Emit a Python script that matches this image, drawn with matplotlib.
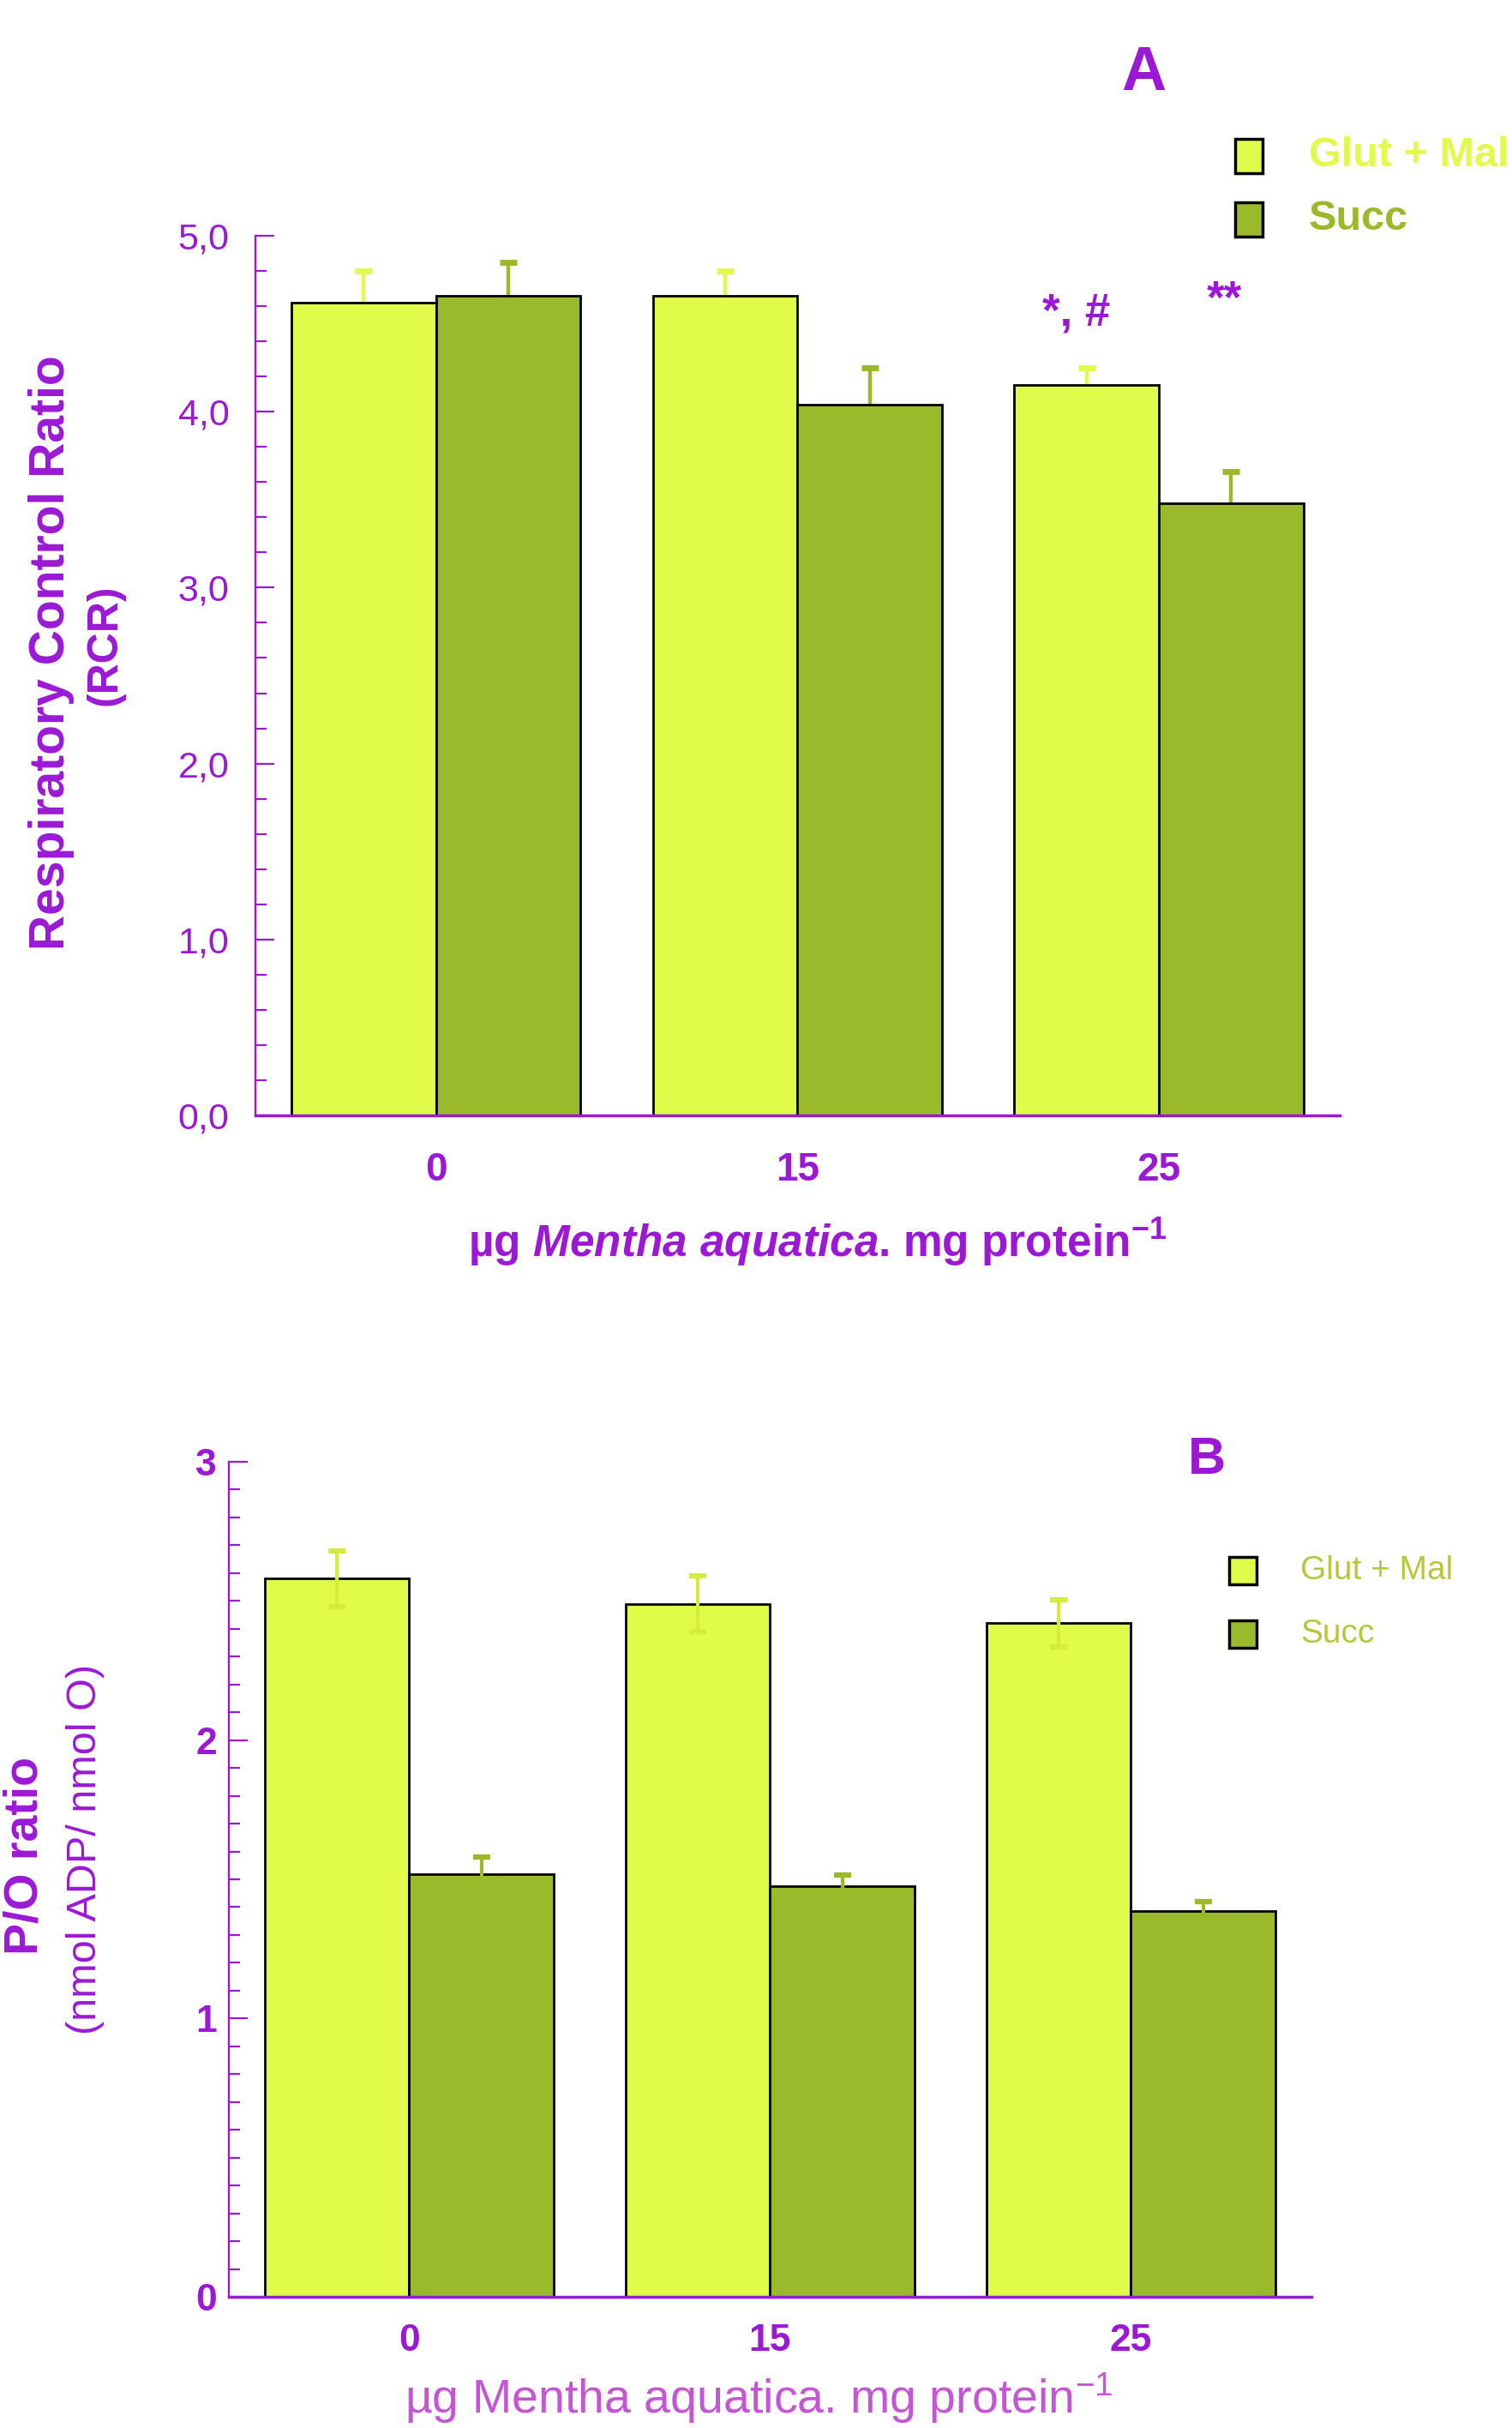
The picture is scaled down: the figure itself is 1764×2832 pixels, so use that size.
import numpy as np
import matplotlib
matplotlib.use("Agg")
import matplotlib.pyplot as plt
from matplotlib.patches import Rectangle

# data
doses = ["0", "15", "25"]
series = ["Glut + Mal", "Succ"]

rcr_glut = [4.62, 4.66, 4.15]
rcr_glut_err = [0.18, 0.14, 0.10]
rcr_succ = [4.66, 4.04, 3.48]
rcr_succ_err = [0.19, 0.21, 0.18]
rcr_marks = ["*, #", "**"]

po_glut = [2.58, 2.49, 2.42]
po_glut_err = [0.10, 0.10, 0.085]
po_succ = [1.52, 1.475, 1.385]
po_succ_err = [0.06, 0.04, 0.035]

purple = "#9B19D5"
light_purple = "#C455D4"
c_glut = "#E0FB4A"
c_succ = "#9ABA2C"
c_glut_err = "#D4EC3C"

fam = ["Liberation Sans", "DejaVu Sans"]

plt.rcParams["font.family"] = fam
plt.rcParams["mathtext.fontset"] = "custom"
plt.rcParams["mathtext.rm"] = "Liberation Sans:bold"
plt.rcParams["mathtext.it"] = "Liberation Sans:italic:bold"

W, H = 1765, 2832
fig = plt.figure(figsize=(W / 100, H / 100), dpi=100)


def fx(px):
    return px / W


def fy(px):
    return 1 - px / H


def style_axes(ax, ymax, major, minor):
    for s in ["top", "right"]:
        ax.spines[s].set_visible(False)
    ax.spines["left"].set_color(purple)
    ax.spines["left"].set_linewidth(1.7)
    ax.spines["bottom"].set_color(purple)
    ax.spines["bottom"].set_linewidth(2.5)
    ax.set_xlim(-0.5, 2.5)
    ax.set_ylim(0, ymax)
    ax.set_yticks(np.arange(0, ymax + 1e-9, major))
    ax.set_yticks(np.arange(0, ymax + 1e-9, minor), minor=True)
    ax.tick_params(axis="y", which="major", direction="in", length=16, width=1.6, color=purple)
    ax.tick_params(axis="y", which="minor", direction="in", length=9, width=1.6, color=purple)
    ax.tick_params(axis="x", length=0)
    ax.set_xticks(range(len(doses)))


x = np.arange(len(doses))
w = 0.4

# ---------------- Panel A ----------------
axA = fig.add_axes([fx(298), fy(1301), fx(1563) - fx(298), fy(275) - fy(1301)])
axA.errorbar(x - w / 2, rcr_glut, yerr=rcr_glut_err, fmt="none", ecolor=c_glut,
             elinewidth=3.2, capsize=7, capthick=5, zorder=1)
axA.errorbar(x + w / 2, rcr_succ, yerr=rcr_succ_err, fmt="none", ecolor=c_succ,
             elinewidth=3.2, capsize=7, capthick=5, zorder=1)
axA.bar(x - w / 2, rcr_glut, w, color=c_glut, edgecolor="black", linewidth=2, zorder=2)
axA.bar(x + w / 2, rcr_succ, w, color=c_succ, edgecolor="black", linewidth=2, zorder=2)
style_axes(axA, 5, 1, 0.2)
axA.set_yticklabels([f"{v:.1f}".replace(".", ",") for v in np.arange(0, 5.01, 1)])
axA.set_xticklabels(doses)
axA.tick_params(axis="y", labelsize=31, labelcolor=purple, pad=22)
axA.tick_params(axis="x", labelsize=33, labelcolor=purple, pad=30)
for t in axA.get_xticklabels():
    t.set_fontweight("bold")

# significance marks over the 25 group
axA.text(x[2] - w / 2 - 0.03, 4.49, rcr_marks[0], color=purple, fontsize=38,
         fontweight="bold", ha="center", va="baseline")
axA.text(x[2] + w / 2 - 0.02, 4.56, rcr_marks[1], color=purple, fontsize=38,
         fontweight="bold", ha="center", va="baseline")

fig.text(fx(60), fy(761), "Respiratory Control Ratio", rotation=90, color=purple,
         fontsize=41, fontweight="bold", ha="center", va="center")
fig.text(fx(123), fy(752), "(RCR)", rotation=90, color=purple,
         fontsize=36, fontweight="bold", ha="center", va="center")
fig.text(fx(954), fy(1449), r"µg $\mathit{Mentha\ aquatica}$. mg protein$^{\mathregular{-1}}$",
         color=purple, fontsize=37, fontweight="bold", ha="center", va="center")
fig.text(fx(1334), fy(86), "A", color=purple, fontsize=52, fontweight="bold",
         ha="center", va="center")

# legend A
for i, (lab, col) in enumerate(zip(series, [c_glut, c_succ])):
    yc = [182, 256][i]
    fig.patches.append(Rectangle((fx(1441), fy(yc + 20)), fx(32), 40 / H, transform=fig.transFigure,
                                 facecolor=col, edgecolor="black", linewidth=2.5))
    fig.text(fx(1527), fy(yc), lab, color=col, fontsize=35, fontweight="bold",
             ha="left", va="center")

# ---------------- Panel B ----------------
axB = fig.add_axes([fx(267), fy(2679), fx(1530) - fx(267), fy(1705) - fy(2679)])
axB.bar(x - w / 2, po_glut, w, color=c_glut, edgecolor="black", linewidth=2, zorder=2)
axB.bar(x + w / 2, po_succ, w, color=c_succ, edgecolor="black", linewidth=2, zorder=2)
axB.errorbar(x - w / 2, po_glut, yerr=po_glut_err, fmt="none", ecolor=c_glut_err,
             elinewidth=3.0, capsize=7, capthick=4.5, zorder=3)
axB.errorbar(x + w / 2, po_succ, yerr=po_succ_err, fmt="none", ecolor=c_succ,
             elinewidth=3.0, capsize=7, capthick=4.5, zorder=3)
style_axes(axB, 3, 1, 0.1)
axB.set_yticklabels(["0", "1", "2", "3"])
axB.set_xticklabels(doses)
axB.tick_params(axis="y", labelsize=32, labelcolor=purple, pad=10)
axB.tick_params(axis="x", labelsize=32, labelcolor=purple, pad=22)
for t in axB.get_yticklabels():
    t.set_fontweight("bold")
for t in axB.get_xticklabels():
    t.set_fontweight("bold")

fig.text(fx(30), fy(2165), "P/O ratio", rotation=90, color=purple, fontsize=40,
         fontweight="bold", ha="center", va="center")
fig.text(fx(100), fy(2157), "(nmol ADP/ nmol O)", rotation=90, color=purple,
         fontsize=35, ha="center", va="center")
fig.text(fx(885), fy(2797), r"µg Mentha aquatica. mg protein$^{\mathregular{-1}}$",
         color=light_purple, fontsize=40, ha="center", va="center")
fig.text(fx(1408), fy(1704), "B", color=purple, fontsize=44, fontweight="bold",
         ha="center", va="center")

# legend B
for i, (lab, col) in enumerate(zip(series, [c_glut, c_succ])):
    yc = [1832, 1906][i]
    fig.patches.append(Rectangle((fx(1434), fy(yc + 16)), fx(32), 32 / H, transform=fig.transFigure,
                                 facecolor=col, edgecolor="black", linewidth=2.5))
    fig.text(fx(1517), fy(yc), lab, color="#B4C83A", fontsize=28,
             ha="left", va="center")

fig.savefig("out.png", dpi=100)
